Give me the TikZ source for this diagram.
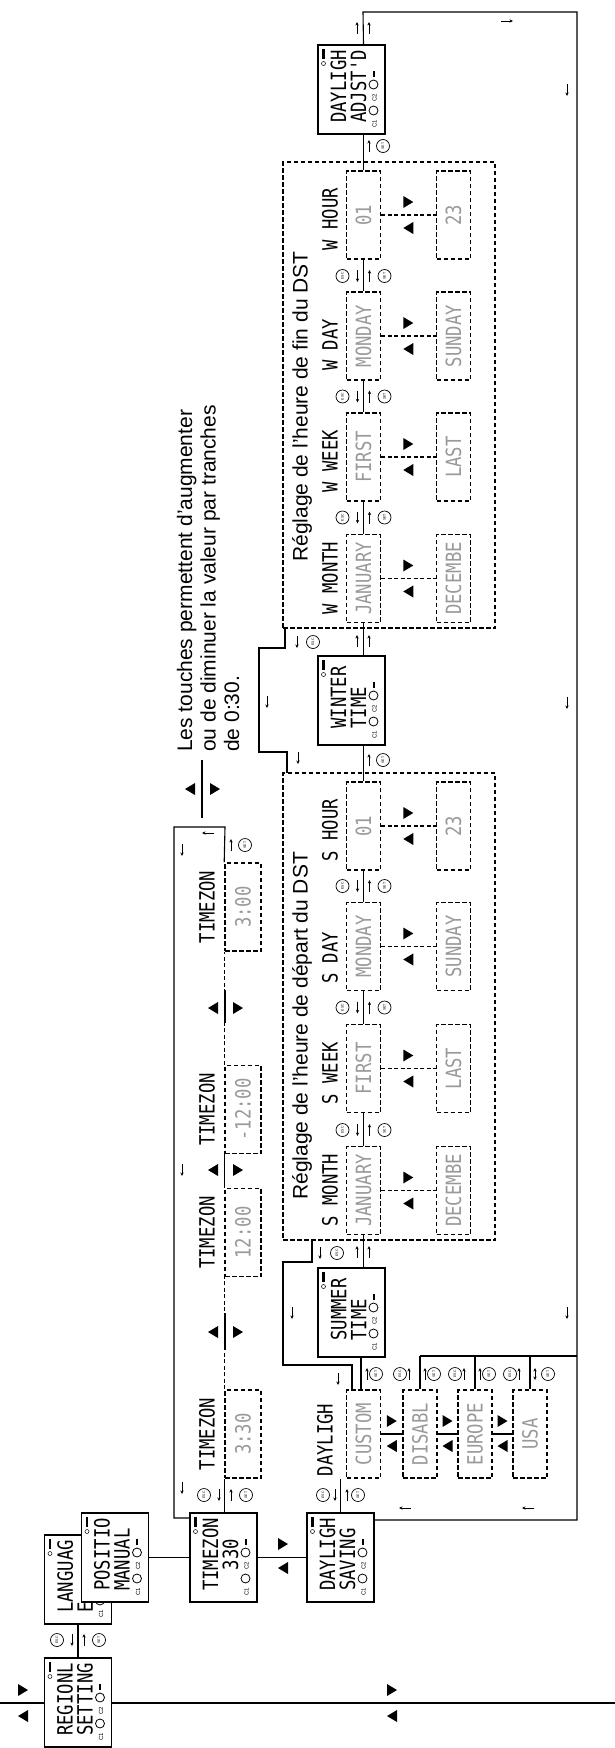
\documentclass[tikz,border=0pt]{standalone}
\usepackage{fontspec}
\usepackage{graphicx}
\setmainfont{Liberation Sans}
\newfontfamily\lcdfont[FakeStretch=0.82]{DejaVu Sans Mono}
\usetikzlibrary{arrows.meta}
\definecolor{lcdgray}{gray}{0.6}
\tikzset{
  menu/.style={draw, line width=1.1pt, fill=white, minimum width=67pt, minimum height=89pt, inner sep=0pt},
  valbox/.style={draw, line width=1.6pt, dash pattern=on 4.5pt off 2.5pt, minimum width=34pt, minimum height=88pt, inner sep=0pt},
  tzbox/.style={valbox, minimum width=36pt},
  bigbox/.style={draw, line width=1.6pt, dash pattern=on 4.5pt off 2.5pt, inner sep=0pt},
  lcd/.style={font=\lcdfont\fontsize{21}{20}\selectfont, rotate=90, inner sep=0pt, align=left},
  lcdv/.style={lcd, text=lcdgray},
  captxt/.style={font=\fontsize{21}{23.5}\selectfont, rotate=90, inner sep=0pt, align=left, anchor=west},
  wire/.style={line width=1.1pt},
  dwire/.style={line width=1.1pt, dash pattern=on 4pt off 2.5pt},
  btn/.style={circle, draw, line width=0.7pt, inner sep=0pt, minimum size=13pt, font=\fontsize{3.5}{4}\selectfont, rotate=90},
  sarr/.style={line width=0.8pt, -{Stealth[length=3.5pt,width=3.2pt]}},
  darr/.style={line width=0.8pt, {Stealth[length=3.5pt,width=3.2pt]}-{Stealth[length=3.5pt,width=3.2pt]}},
  ind/.style={font=\fontsize{6}{6}\selectfont, rotate=90, inner sep=0pt},
  trR/.pic={\fill (-5,-6) -- (5,0) -- (-5,6) -- cycle;},
  trL/.pic={\fill (5,-6) -- (-5,0) -- (5,6) -- cycle;},
  aD/.pic={\draw[sarr] (0,-6) -- (0,6);},
  aU/.pic={\draw[sarr] (0,6) -- (0,-6);},
  aUD/.pic={\draw[darr] (0,6) -- (0,-6);},
  aL/.pic={\draw[sarr] (6,0) -- (-6,0);},
  aR/.pic={\draw[sarr] (-6,0) -- (6,0);},
}
% name, cx, cy, line1, line2
\newcommand\menubox[5]{%
  \node[menu] (#1) at (#2,#3) {};
  \node[lcd] (#1-t) at (#2-3,#3-3) {#4\\#5};
  \fill (#2-29.5,#3-41) rectangle (#2-27,#3-31);
  \draw[line width=0.5pt] (#2-28,#3-26) circle (2);
  \node[ind] (#1-c1) at (#2+23,#3+34) {C1};
  \draw[line width=0.8pt] (#2+22,#3+21) circle (4.5);
  \node[ind] (#1-c2) at (#2+23,#3+8) {C2};
  \draw[line width=0.8pt] (#2+22,#3-5) circle (4.5);
  \fill (#2+21,#3-19) rectangle (#2+23,#3-13);
}
% name, cx, cy, text
\newcommand\valnode[4]{%
  \node[valbox] (#1) at (#2,#3) {};
  \node[lcdv] (#1-t) at (#2,#3) {#4};
}
\newcommand\tznode[4]{%
  \node[tzbox] (#1) at (#2,#3) {};
  \node[lcdv] (#1-t) at (#2,#3) {#4};
}
% name, x of line, y
\newcommand\escset[3]{%
  \node[btn] (#1e) at (#2-21,#3) {ESC};
  \pic at (#2-6,#3) {aD};
  \pic at (#2+6,#3) {aU};
  \node[btn] (#1s) at (#2+21,#3) {SET};
}
% preset column buttons: name, x of line
\newcommand\presetbtn[2]{%
  \node[btn] (#1e) at (#2-20,1374) {ESC};
  \pic at (#2-11,1374) {aU};
  \pic at (#2+5,1374) {aU};
  \node[btn] (#1s) at (#2+14,1374) {SET};
}
\begin{document}
\begin{tikzpicture}[x=1pt,y=-1pt]
\useasboundingbox (0,0) rectangle (615,1748);

% ---------- main level line
\coordinate (mL) at (0,1703);
\coordinate (mR) at (615,1703);
\draw[wire] (mL) -- (mR);
\pic at (23,1690) {trR};
\pic at (23,1716) {trL};
\pic at (392,1690) {trR};
\pic at (392,1716) {trL};

% ---------- region menus
\menubox{reg}{78}{1702.5}{REGIONL}{SETTING}
\menubox{lang}{78}{1579.5}{LANGUAG}{E}
\menubox{pos}{115}{1557.5}{POSITIO}{MANUAL}
\draw[wire] (reg.north) -- (lang.south);
\escset{rl}{78}{1640}

\menubox{tzm}{223.5}{1557.5}{TIMEZON}{\ \ 330}
\menubox{dls}{340.5}{1557.5}{DAYLIGH}{SAVING}
\draw[wire] (pos.east) -- (tzm.west);
\draw[wire] (tzm.east) -- (dls.west);
\pic at (283,1544) {trR};
\pic at (283,1568) {trL};

% ---------- time zone values
\tznode{tz1}{243}{1434}{3:30}
\tznode{tz2}{243}{1232.5}{12:00}
\tznode{tz3}{243}{1109.5}{-12:00}
\tznode{tz4}{243}{907}{3:00}
\foreach \n/\y in {l1/1434,l2/1232.5,l3/1109.5,l4/907}
  \node[lcd] (tz\n) at (207,\y) {TIMEZON};
\draw[wire] (tzm.north -| tz1.west) -- (tz1.south west);
\escset{tza}{225}{1495}
\draw[dwire] (tz1.north west) -- (tz2.south west);
\draw[line width=2.2pt] (225,1313) -- (225,1350);
\pic at (213,1332) {trL}; \pic at (238,1332) {trR};
\draw[wire] (tz2.north west) -- (tz3.south west);
\pic at (213,1170) {trL}; \pic at (238,1170) {trR};
\draw[dwire] (tz3.north west) -- (tz4.south west);
\draw[line width=2.2pt] (225,990) -- (225,1023);
\pic at (213,1008) {trL}; \pic at (238,1008) {trR};
% loop back to TIMEZON menu
\coordinate (tzl1) at (225,827);
\coordinate (tzl2) at (174,827);
\coordinate (tzl3) at (174,1518);
\draw[wire] (tz4.north west) -- (tzl1) -- (tzl2) -- (tzl3) -- (tzm.west |- tzl3);
\pic at (231,845) {aU};
\node[btn] (tzset) at (245,845) {SET};
\pic at (208,833) {aL};
\pic at (182,850) {aD};
\pic at (182,1170) {aD};
\pic at (182,1488) {aD};

% ---------- caption
\draw[line width=2.2pt] (202,760) -- (202,818);
\pic at (190,789) {trL}; \pic at (215,789) {trR};
\node[captxt] (caption) at (208,752) {Les touches permettent d'augmenter\\ou de diminuer la valeur par tranches\\de 0:30.};

% ---------- DST start
\node[bigbox, minimum width=212pt, minimum height=467pt] (b1) at (389,1006.5) {};
\node[captxt] (t1) at (302,1200) {Réglage de l'heure de départ du DST};
\valnode{sm}{363.5}{1190.5}{JANUARY}
\valnode{smA}{453.5}{1190.5}{DECEMBE}
\valnode{sw}{363.5}{1068.5}{FIRST}
\valnode{swA}{453.5}{1068.5}{LAST}
\valnode{sd}{363.5}{946.5}{MONDAY}
\valnode{sdA}{453.5}{946.5}{SUNDAY}
\valnode{sh}{363.5}{826}{01}
\valnode{shA}{453.5}{826}{23}
\node[lcd] (lsm) at (330,1190) {S MONTH};
\node[lcd] (lsw) at (330,1073) {S WEEK};
\node[lcd] (lsd) at (330,958) {S DAY};
\node[lcd] (lsh) at (330,830) {S HOUR};

% ---------- DST end
\node[bigbox, minimum width=212pt, minimum height=466pt] (b2) at (389,395) {};
\node[captxt] (t2) at (302,562) {Réglage de l'heure de fin du DST};
\valnode{wm}{363.5}{578.5}{JANUARY}
\valnode{wmA}{453.5}{578.5}{DECEMBE}
\valnode{ww}{363.5}{457}{FIRST}
\valnode{wwA}{453.5}{457}{LAST}
\valnode{wd}{363.5}{336}{MONDAY}
\valnode{wdA}{453.5}{336}{SUNDAY}
\valnode{wh}{363.5}{215}{01}
\valnode{whA}{453.5}{215}{23}
\node[lcd] (lwm) at (330,578) {W MONTH};
\node[lcd] (lww) at (330,461) {W WEEK};
\node[lcd] (lwd) at (330,345) {W DAY};
\node[lcd] (lwh) at (330,219) {W HOUR};

% value alternatives
\foreach \a in {sm,sw,sd,sh,wm,ww,wd,wh}{
  \draw[dwire] (\a.east) -- (\a A.west);
  \path (\a.east) ++(27,-13) pic {trR};
  \path (\a.east) ++(27,13) pic {trL};
}
% value chains
\foreach \a/\b/\y in {sm/sw/1130,sw/sd/1007.5,sd/sh/886,wm/ww/517.5,ww/wd/396.5,wd/wh/276}{
  \draw[wire] (\a.north) -- (\b.south);
  \escset{\a\b}{363.5}{\y}
}

% ---------- SUMMER / WINTER / ADJUSTED
\menubox{sum}{351.5}{1312.5}{SUMMER}{TIME}
\menubox{win}{351.5}{700.5}{WINTER}{TIME}
\menubox{adj}{351.5}{89.5}{DAYLIGH}{ADJST'D}

\draw[wire] (sum.north -| sm) -- (sm.south);
\pic at (357,1252) {aU}; \pic at (369,1252) {aU};
\pic at (320,1253) {aD};
\node[btn] (b1esc) at (337,1253) {ESC};

\draw[wire] (sh.north) -- (win.south -| sh);
\pic at (369,760) {aU};
\node[btn] (shset) at (383,760) {SET};

\draw[wire] (win.north -| wm) -- (wm.south);
\pic at (357,641) {aU}; \pic at (369,641) {aU};

\draw[wire] (wh.north) -- (adj.south -| wh);
\pic at (369,146) {aU};
\node[btn] (whset) at (383,146) {SET};

% ESC loop end -> start
\coordinate (e2a) at (285,628);
\coordinate (e2b) at (285,648);
\coordinate (e2c) at (259,648);
\coordinate (e2d) at (259,752);
\coordinate (e2e) at (287,752);
\coordinate (e2f) at (287,773);
\draw[wire] (e2a) -- (e2b) -- (e2c) -- (e2d) -- (e2e) -- (e2f);
\pic at (297,642) {aD};
\node[btn] (b2esc) at (313,642) {ESC};
\pic at (267,702) {aD};
\pic at (298,758) {aD};

% ---------- presets
\node[lcd] (ldl) at (325,1440) {DAYLIGH};
\valnode{cus}{363.5}{1434}{CUSTOM}
\valnode{dis}{420}{1434}{DISABL}
\valnode{eur}{475}{1434}{EUROPE}
\valnode{usa}{530}{1434}{USA}
\foreach \a/\b in {cus/dis,dis/eur,eur/usa}{
  \draw[wire] (\a.east) -- (\b.west);
  \path (\a.east) -- (\b.west) coordinate[midway] (m\a);
  \path (m\a) ++(0,-13) pic {trR};
  \path (m\a) ++(0,12) pic {trL};
}

\draw[wire] (dls.north) -- (dls.north |- cus.south);
\node[btn] (dlse) at (323,1495) {ESC};
\pic at (335,1495) {aD};
\pic at (347,1495) {aU};
\node[btn] (dlss) at (358,1495) {SET};

% ESC loop start -> custom
\coordinate (e1a) at (312,1240);
\coordinate (e1b) at (312,1262);
\coordinate (e1c) at (283,1262);
\coordinate (e1d) at (283,1365);
\coordinate (e1e) at (352,1365);
\draw[wire] (e1a) -- (e1b) -- (e1c) -- (e1d) -- (e1e) -- (e1e |- cus.north);
\pic at (292,1313) {aD};
\pic at (338,1379) {aD};

\draw[wire] (sum.south -| 361,0) -- (cus.north -| 361,0);
\pic at (367,1374) {aU};
\node[btn] (cuss) at (376,1374) {SET};

\coordinate (bus1) at (420,1356);
\coordinate (bus2) at (577,1356);
\draw[wire] (bus1) -- (bus2);
\draw[wire] (bus1) -- (dis.north);
\draw[wire] (bus1 -| eur) -- (eur.north);
\draw[wire] (bus1 -| usa) -- (usa.north);
\presetbtn{dis}{420}
\presetbtn{eur}{475}
\node[btn] (usae) at (510,1374) {ESC};
\pic at (519,1374) {aU};
\pic at (535,1374) {aUD};
\node[btn] (usas) at (548,1374) {SET};

% ---------- outer return loop
\coordinate (o1) at (363,12);
\coordinate (o2) at (577,12);
\coordinate (o3) at (577,1520);
\draw[wire] (adj.north -| wh) -- (o1) -- (o2) -- (o3) -- (dls.east |- o3);
\pic at (357,28) {aU}; \pic at (369,28) {aU};
\pic at (507,21) {aR};
\pic at (567,90) {aD};
\pic at (567,703) {aD};
\pic at (567,1313) {aD};
\pic at (405,1508) {aL};
\pic at (528,1508) {aL};
\end{tikzpicture}
\end{document}
